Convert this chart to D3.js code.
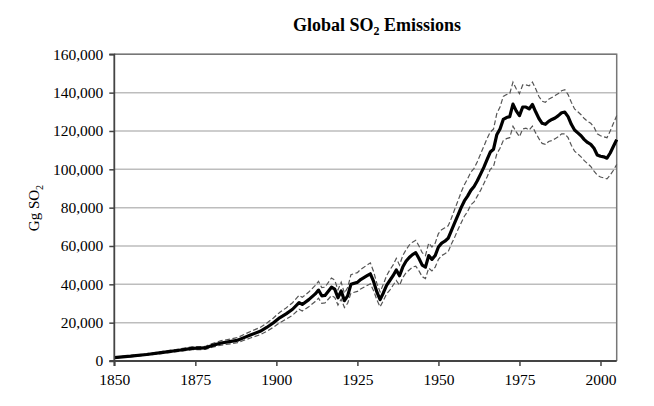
<!DOCTYPE html>
<html>
<head>
<meta charset="utf-8">
<script src="https://d3js.org/d3.v7.min.js"></script>
<style>
  body { margin: 0; background: #fff; }
  svg { display: block; }
  .tick text { font-family: "Liberation Serif", "DejaVu Serif", serif; font-size: 15.5px; fill: #000; }
  .grid line { stroke: #bdbdbd; stroke-width: 1.5px; }
  .frame { fill: none; stroke: #777; stroke-width: 1.5px; }
  .central { fill: none; stroke: #000; stroke-width: 3.2px; stroke-linejoin: round; }
  .bound { fill: none; stroke: #555; stroke-width: 1.2px; stroke-dasharray: 5 2.5; }
</style>
</head>
<body>
<svg id="chart" width="654" height="406"></svg>
<script>
// values, in thousands of Gg SO2
const years = [1850,1855,1860,1865,1870,1874,1878,1880,1883,1886,1888,1890,1892,1895,1897,1899,
  1901,1903,1905,1907,1908,1910,1912,1913,1914,1915,1917,1918,1919,1920,1921,1922,1923,1925,1926,1927,1928,1929,
  1930,1931,1932,1933,1934,1935,1936,1937,1938,1939,1940,1941,1942,1943,1944,1945,1946,1947,1948,1949,
  1950,1951,1952,1953,1954,1955,1956,1957,1958,1959,1960,1961,1962,1963,1964,1965,1966,1967,1968,1969,
  1970,1971,1972,1973,1974,1975,1976,1977,1978,1979,1980,1981,1982,1983,1984,1985,1986,1987,1988,1989,
  1990,1991,1992,1993,1994,1995,1996,1997,1998,1999,2000,2001,2002,2003,2004,2005];

const central = [1.8,2.5,3.4,4.5,5.6,6.6,6.8,8.0,9.4,10.2,10.8,12.2,13.6,15.5,17.5,19.8,
  22.5,24.6,27.0,30.5,29.5,32.0,35.0,37.0,34.0,34.2,38.5,37.5,33.0,36.5,31.5,34.0,40.0,41.0,42.5,43.5,44.5,45.5,
  41.5,36.0,32.0,35.5,39.5,42.0,44.5,47.5,44.5,49.0,52.0,54.0,55.5,56.5,53.5,50.0,49.0,55.0,53.0,55.0,
  59.5,61.5,62.5,64.0,68.0,72.0,76.0,80.0,83.5,86.0,89.0,91.0,94.0,97.5,101.0,105.0,109.0,110.5,118.0,121.0,
  126.0,127.0,127.5,134.0,130.5,128.0,132.5,132.5,131.5,133.8,130.0,126.5,124.0,123.5,125.0,126.0,126.8,128.0,129.5,129.8,
  127.5,123.5,120.5,119.0,117.5,115.5,114.0,113.0,111.0,107.5,106.8,106.5,105.8,108.5,112.0,115.5];

const upper = [2.1,2.8,3.8,5.0,6.3,7.4,7.6,9.0,10.6,11.5,12.2,13.8,15.4,17.5,19.7,22.3,
  25.3,27.7,30.4,34.3,33.2,36.0,39.4,41.6,38.3,38.5,43.3,42.2,37.1,41.1,35.4,38.3,45.0,46.1,47.8,48.9,50.1,51.2,
  46.7,40.5,36.0,40.0,44.5,47.5,50.0,53.5,50.0,55.0,58.0,60.5,62.0,63.0,60.0,56.5,55.0,61.5,59.5,61.5,
  66.5,68.5,69.5,70.5,74.5,79.0,83.5,88.0,92.0,95.0,98.5,100.5,104.0,108.0,112.0,116.0,119.5,121.0,129.0,132.5,
  138.0,139.0,139.5,145.5,142.0,139.5,144.0,144.0,143.5,145.5,142.0,138.0,135.5,135.0,136.5,137.5,138.5,139.5,141.0,141.5,
  139.0,135.0,131.5,130.0,128.5,126.5,125.0,124.0,122.0,118.5,117.5,117.0,116.5,120.0,124.0,128.0];

const lower = [1.5,2.2,3.0,4.0,5.0,5.9,6.0,7.1,8.3,9.0,9.6,10.8,12.0,13.7,15.5,17.5,
  19.9,21.8,23.9,27.0,26.1,28.3,31.0,32.8,30.1,30.3,34.1,33.2,29.2,32.3,27.9,30.1,35.4,36.3,37.6,38.5,39.4,40.3,
  36.7,31.9,28.3,31.5,35.0,37.0,39.5,42.0,39.5,43.5,46.0,47.5,49.0,49.5,47.0,44.0,43.0,48.5,47.0,49.0,
  53.0,55.0,56.0,57.0,61.0,64.5,68.5,72.0,75.5,78.0,81.5,83.0,86.0,89.0,92.5,96.0,100.0,101.5,108.0,111.0,
  115.0,116.0,116.5,122.5,119.5,117.0,121.0,121.5,120.5,122.5,119.0,116.0,113.5,113.0,114.5,115.0,116.0,117.0,118.5,118.5,
  116.5,112.5,109.5,108.0,106.5,104.5,103.0,101.5,99.0,97.0,96.0,95.5,95.0,97.0,99.5,102.5];

const xTicks = [1850,1875,1900,1925,1950,1975,2000];
const yTicks = [0,20,40,60,80,100,120,140,160];

const svg = d3.select("#chart");
const plot = {left: 114.3, right: 616.7, top: 54.3, bottom: 361};

const x = d3.scaleLinear().domain([1850, 2005]).range([plot.left, plot.right]);
const y = d3.scaleLinear().domain([0, 160]).range([plot.bottom, plot.top]);

// horizontal gridlines
svg.append("g").attr("class", "grid")
   .selectAll("line").data(yTicks.slice(1)).join("line")
   .attr("x1", plot.left).attr("x2", plot.right)
   .attr("y1", d => y(d)).attr("y2", d => y(d));

// top and right border
svg.append("path").attr("class", "frame")
   .attr("d", `M${plot.left},${plot.top}H${plot.right}V${plot.bottom}`);

const line = (arr) => d3.line()
   .x((d, i) => x(years[i]))
   .y(d => y(d))(arr);

svg.append("path").attr("class", "bound").attr("d", line(upper));
svg.append("path").attr("class", "bound").attr("d", line(lower));
svg.append("path").attr("class", "central").attr("d", line(central));

// axes
const fmt = d3.format(",");
const yAxis = svg.append("g")
   .attr("transform", `translate(${plot.left},0)`)
   .call(d3.axisLeft(y).tickValues(yTicks).tickSize(5).tickPadding(6).tickFormat(d => fmt(d * 1000)));
const xAxis = svg.append("g")
   .attr("transform", `translate(0,${plot.bottom})`)
   .call(d3.axisBottom(x).tickValues(xTicks).tickSize(5).tickPadding(8).tickFormat(d3.format("d")));

[yAxis, xAxis].forEach(a => {
  a.select(".domain").attr("stroke", "#444").attr("stroke-width", 1.8);
  a.selectAll(".tick line").attr("stroke", "#444").attr("stroke-width", 1.5);
});
yAxis.select(".domain").attr("d", `M-5,${plot.top}H0V${plot.bottom}H-5`);
xAxis.select(".domain").attr("d", `M${plot.left},5V0H${plot.right}`);

// titles
svg.append("text")
   .attr("x", 377).attr("y", 31)
   .attr("text-anchor", "middle")
   .style("font-family", "'Liberation Serif', serif")
   .style("font-weight", "bold")
   .style("font-size", "18px")
   .html('Global SO<tspan dy="4" font-size="12px">2</tspan><tspan dy="-4"> Emissions</tspan>');

svg.append("text")
   .attr("transform", "translate(39,208) rotate(-90)")
   .attr("text-anchor", "middle")
   .style("font-family", "'Liberation Serif', serif")
   .style("font-size", "15px")
   .html('Gg SO<tspan dy="4" font-size="10px">2</tspan>');
</script>
</body>
</html>
